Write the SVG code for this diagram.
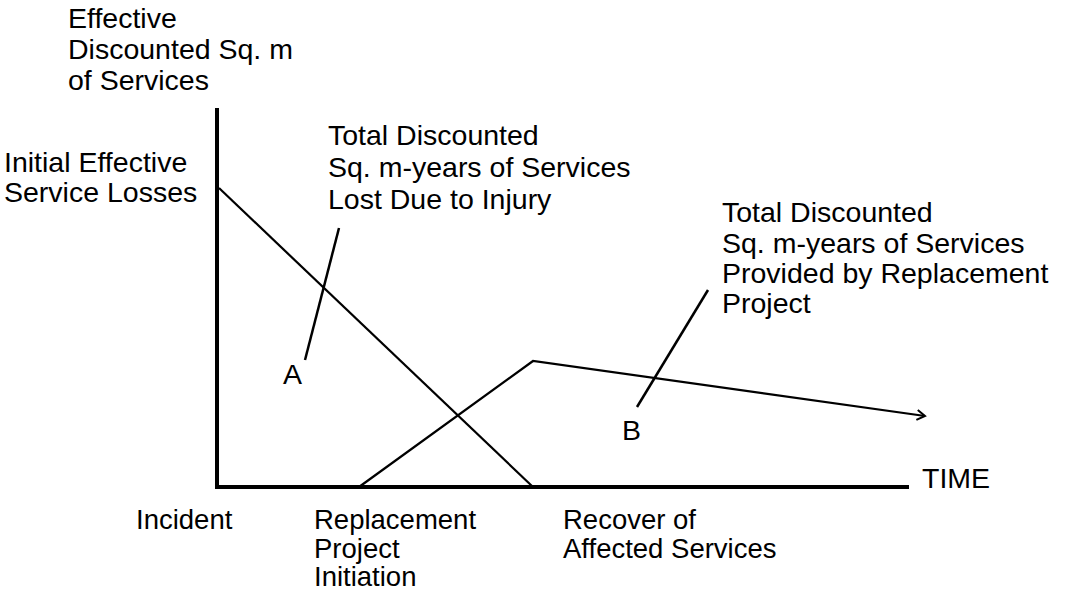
<svg xmlns="http://www.w3.org/2000/svg" width="1074" height="592" viewBox="0 0 1074 592">
<style>
text{font-family:"Liberation Sans",Arial,Helvetica,sans-serif;font-size:28.5px;fill:#000}
text.bot{font-size:27.5px}
.axis{stroke:#000;stroke-width:4;fill:none;stroke-linecap:square}
.curve{stroke:#000;stroke-width:2.2;fill:none}
.lead{stroke:#000;stroke-width:2.5;fill:none}
</style>
<defs>
<marker id="arr" markerWidth="14" markerHeight="14" refX="10" refY="6" orient="auto" markerUnits="userSpaceOnUse">
<path d="M2,1 L10,6 L2,11" fill="none" stroke="#000" stroke-width="2"/>
</marker>
</defs>
<g id="axes">
<line class="axis" x1="217" y1="110" x2="217" y2="487"/>
<line class="axis" x1="217" y1="487" x2="907" y2="487"/>
</g>
<g id="connectors">
<polyline class="curve" points="219,188 533,487"/>
<polyline class="curve" points="359,487 533,361 925,416" marker-end="url(#arr)"/>
<line class="lead" x1="339" y1="228" x2="305" y2="360"/>
<line class="lead" x1="708" y1="290" x2="637" y2="407"/>
</g>
<g id="y-axis-label"><text x="68" y="28">Effective</text><text x="68" y="59">Discounted Sq. m</text><text x="68" y="90">of Services</text></g>
<g id="initial-losses"><text x="4" y="172">Initial Effective</text><text x="4" y="202">Service Losses</text></g>
<g id="label-a-text"><text x="328" y="145">Total Discounted</text><text x="328" y="177">Sq. m-years of Services</text><text x="328" y="209">Lost Due to Injury</text></g>
<g id="label-b-text"><text x="722" y="222">Total Discounted</text><text x="722" y="253">Sq. m-years of Services</text><text x="722" y="283">Provided by Replacement</text><text x="722" y="313">Project</text></g>
<g id="label-a"><text x="283" y="384">A</text></g>
<g id="label-b"><text x="622" y="440">B</text></g>
<g id="time"><text x="922" y="488">TIME</text></g>
<g id="incident"><text class="bot" x="136" y="529">Incident</text></g>
<g id="replacement"><text class="bot" x="314" y="529">Replacement</text><text class="bot" x="314" y="558">Project</text><text class="bot" x="314" y="586">Initiation</text></g>
<g id="recover"><text class="bot" x="563" y="529">Recover of</text><text class="bot" x="563" y="558">Affected Services</text></g>
</svg>
